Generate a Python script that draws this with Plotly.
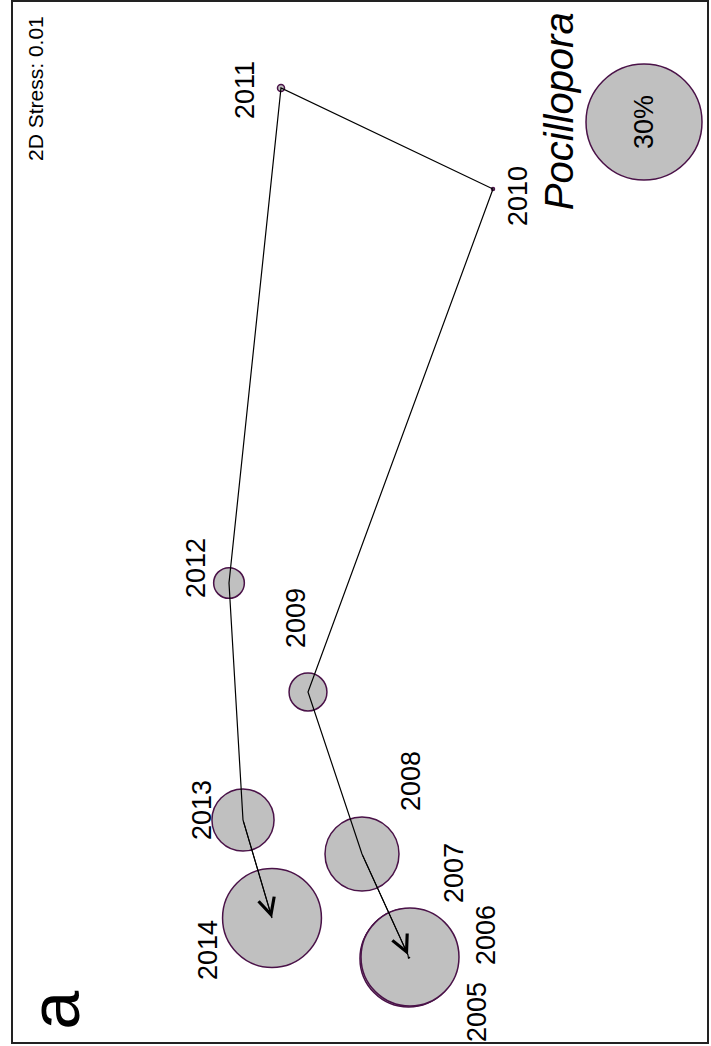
import plotly.graph_objects as go
import numpy as np

# nMDS ordination of yearly samples (rotated layout), bubbles = Pocillopora cover (%)
years = ["2005", "2006", "2007", "2008", "2009", "2010", "2011", "2012", "2013", "2014"]
mds_x = [0.50, 0.485, 0.48, 0.02, -0.52, 1.33, -0.79, -1.31, -1.17, -0.88]
mds_y = [-4.35, -4.365, -4.33, -3.32, -1.70, 3.33, 4.34, -0.61, -2.98, -3.96]
cover = [21.4, 21.0, 19.0, 12.2, 3.2, 0.02, 0.11, 2.1, 8.6, 21.8]

legend_value = 30
legend_xy = (2.84, 4.00)

# label offsets from each point, in pixels (right, up)
label_dx = [67, 77, 46, 49, -12, 25, -36, -33, -41, -64]
label_dy = [-55, 23, 82, 73, 74, -7, -2, 15, 10, -32]

FONT = "Liberation Sans, Arial, sans-serif"
FILL = "#c0c0c0"
EDGE = "#4a1248"
REF_D = 116  # px diameter of the 30% reference bubble


def diam(v):
    return REF_D * np.sqrt(np.asarray(v, dtype=float) / legend_value)


fig = go.Figure()

# bubbles, smallest first so large overlapping bubbles sit on top
order = np.argsort(cover)
fig.add_trace(go.Scatter(
    x=np.asarray(mds_x)[order], y=np.asarray(mds_y)[order], mode="markers",
    marker=dict(size=diam(np.asarray(cover)[order]), color=FILL, opacity=1,
                line=dict(color=EDGE, width=1.5)),
    hoverinfo="text", text=np.asarray(years)[order], showlegend=False,
))

# reference bubble
fig.add_trace(go.Scatter(
    x=[legend_xy[0]], y=[legend_xy[1]], mode="markers",
    marker=dict(size=diam([legend_value]), color=FILL, opacity=1,
                line=dict(color=EDGE, width=1.5)),
    hoverinfo="skip", showlegend=False,
))

# trajectory line through the years
fig.add_trace(go.Scatter(
    x=mds_x, y=mds_y, mode="lines",
    line=dict(color="black", width=1.2),
    hoverinfo="skip", showlegend=False,
))

annotations = []

# open arrowheads at both ends of the trajectory
for head, tail in [(2, 3), (9, 8)]:
    annotations.append(dict(
        x=mds_x[head], y=mds_y[head], ax=mds_x[tail], ay=mds_y[tail],
        xref="x", yref="y", axref="x", ayref="y",
        text="", showarrow=True, arrowhead=5, arrowsize=3.2,
        arrowwidth=1.0, arrowcolor="black", standoff=0,
    ))

# year labels
for yr, x, y, dx, dy in zip(years, mds_x, mds_y, label_dx, label_dy):
    annotations.append(dict(
        x=x, y=y, xref="x", yref="y", text=yr, showarrow=False,
        xshift=dx, yshift=dy, textangle=-90,
        xanchor="center", yanchor="middle",
        font=dict(family=FONT, size=27, color="black"),
    ))

# reference bubble value
annotations.append(dict(
    x=legend_xy[0], y=legend_xy[1], xref="x", yref="y",
    text=f"{legend_value}%", showarrow=False, textangle=-90,
    xanchor="center", yanchor="middle",
    font=dict(family=FONT, size=27, color="black"),
))

# taxon name, stress value, panel letter
annotations.append(dict(
    x=0.787, y=0.894, xref="paper", yref="paper", text="<i>Pocillopora</i>",
    showarrow=False, textangle=-90, xanchor="center", yanchor="middle",
    font=dict(family=FONT, size=40, color="black"),
))
annotations.append(dict(
    x=0.033, y=0.9165, xref="paper", yref="paper", text="2D Stress: 0.01",
    showarrow=False, textangle=-90, xanchor="center", yanchor="middle",
    font=dict(family=FONT, size=21, color="black"),
))
annotations.append(dict(
    x=0.062, y=0.031, xref="paper", yref="paper", text="a",
    showarrow=False, textangle=-90, xanchor="center", yanchor="middle",
    font=dict(family=FONT, size=70, color="black"),
))

fig.update_layout(
    width=711, height=1046,
    margin=dict(l=12, r=3, t=1, b=3),
    paper_bgcolor="white", plot_bgcolor="white",
    xaxis=dict(range=[-3.48, 3.48], visible=False, fixedrange=True),
    yaxis=dict(range=[-5.21, 5.21], visible=False, fixedrange=True),
    annotations=annotations,
    shapes=[dict(type="rect", xref="paper", yref="paper", x0=0, y0=0, x1=1, y1=1,
                 line=dict(color="#222222", width=2))],
)

fig.write_html("out.html")
